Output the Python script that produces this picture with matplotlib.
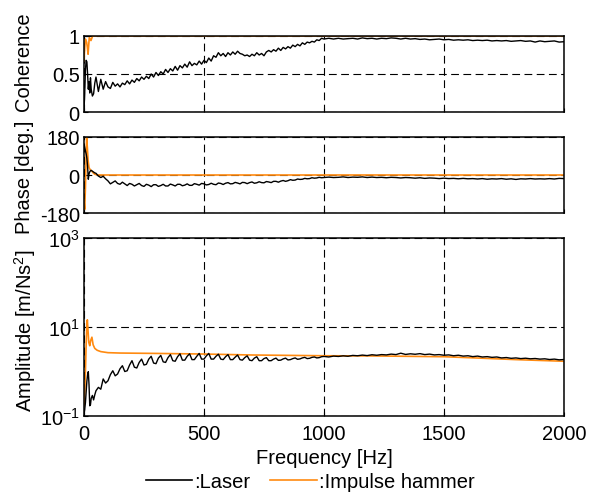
import numpy as np
import matplotlib
matplotlib.use("Agg")
import matplotlib.pyplot as plt
from matplotlib.lines import Line2D

plt.rcParams['font.family'] = ['Liberation Sans', 'DejaVu Sans']
plt.rcParams['mathtext.fontset'] = 'custom'
plt.rcParams['mathtext.rm'] = 'Liberation Sans'
plt.rcParams['mathtext.it'] = 'Liberation Sans:italic'
plt.rcParams['axes.unicode_minus'] = False
plt.rcParams['font.size'] = 14.5

# frequency bins: fine at the start, 10 Hz up to 1 kHz, 20 Hz above
freq = ([0, 3, 6, 9, 12, 15, 18, 21, 24, 27, 30, 35, 40, 45]
        + list(range(50, 1001, 10)) + list(range(1020, 2001, 20)))

# laser (black)
coh_laser = [0.02, 0.25, 0.55, 0.68, 0.66, 0.50, 0.30, 0.40, 0.25, 0.45, 0.30, 0.21, 0.24, 0.38,
             0.46, 0.27, 0.43, 0.30, 0.40, 0.33, 0.31, 0.39, 0.34, 0.37,
             0.33, 0.38, 0.36, 0.41, 0.37, 0.42, 0.39, 0.44, 0.41, 0.46,
             0.43, 0.47, 0.44, 0.50, 0.46, 0.52, 0.48, 0.53, 0.50, 0.56,
             0.52, 0.57, 0.54, 0.60, 0.55, 0.61, 0.58, 0.63, 0.59, 0.66,
             0.61, 0.64, 0.62, 0.67, 0.63, 0.68, 0.65, 0.71, 0.67, 0.74,
             0.72, 0.78, 0.74, 0.77, 0.73, 0.78, 0.75, 0.79, 0.76, 0.80,
             0.77, 0.76, 0.74, 0.75, 0.73, 0.76, 0.74, 0.78, 0.75, 0.77,
             0.74, 0.79, 0.81, 0.79, 0.82, 0.80, 0.84, 0.81, 0.85, 0.83,
             0.86, 0.84, 0.88, 0.86, 0.89, 0.87, 0.91, 0.89, 0.92, 0.91,
             0.93, 0.92, 0.95, 0.94, 0.97, 0.96,
             0.97, 0.96, 0.97, 0.96, 0.965, 0.97, 0.96, 0.975, 0.965, 0.97,
             0.96, 0.97, 0.965, 0.975, 0.97, 0.96, 0.97, 0.96, 0.965, 0.955,
             0.96, 0.95, 0.955, 0.96, 0.95, 0.955, 0.945, 0.95, 0.945, 0.95,
             0.94, 0.945, 0.94, 0.945, 0.935, 0.94, 0.935, 0.94, 0.93, 0.935,
             0.94, 0.93, 0.935, 0.92, 0.935, 0.925, 0.93, 0.935, 0.92, 0.925]

phase_laser = [147, 130, 115, 100, 80, 40, -20, 5, 15, 20, 22, 18, 14, 10,
               8, -5, -12, -6, -18, -28, -42, -35, -28, -40,
               -44, -34, -42, -50, -40, -44, -52, -46, -40, -50,
               -54, -44, -48, -55, -46, -46, -54, -50, -44, -52,
               -52, -43, -47, -52, -44, -44, -51, -48, -42, -49,
               -49, -41, -44, -48, -40, -42, -47, -45, -39, -44,
               -46, -38, -40, -45, -39, -36, -42, -41, -35, -38,
               -42, -35, -36, -41, -36, -33, -39, -37, -32, -36,
               -37, -31, -33, -36, -30, -30, -34, -29, -26, -30,
               -27, -22, -25, -24, -19, -21, -20, -16, -18, -17,
               -13, -15, -14, -11, -13, -12,
               -10, -12, -11, -9, -12, -10, -11, -9, -12, -10,
               -12, -11, -13, -11, -12, -14, -12, -13, -15, -13,
               -16, -14, -15, -17, -15, -17, -16, -18, -16, -18,
               -17, -19, -17, -20, -18, -19, -17, -20, -18, -21,
               -18, -19, -17, -19, -18, -19, -17, -19, -16, -17]

amp_laser = [0.11, 0.14, 0.20, 0.35, 0.60, 0.85, 0.99, 0.50, 0.17, 0.18, 0.25, 0.29, 0.23, 0.30,
             0.37, 0.44, 0.40, 0.68, 0.55, 0.62, 0.85, 1.04, 0.80, 0.88,
             1.15, 1.35, 1.00, 1.04, 1.40, 1.75, 1.25, 1.20, 1.60, 1.90,
             1.40, 1.45, 1.90, 2.20, 1.55, 1.50, 2.00, 2.30, 1.65, 1.60,
             2.05, 2.40, 1.75, 1.70, 2.15, 2.50, 1.80, 1.80, 2.20, 2.50,
             1.85, 1.85, 2.20, 2.55, 1.90, 1.90, 2.25, 2.55, 1.90, 1.90,
             2.20, 2.45, 1.90, 1.85, 2.15, 2.40, 1.85, 1.85, 2.10, 2.35,
             1.85, 1.80, 2.05, 2.25, 1.80, 1.75, 2.00, 2.15, 1.75, 1.75,
             1.95, 2.05, 1.75, 1.75, 1.90, 2.00, 1.78, 1.80, 1.92, 2.00,
             1.82, 1.85, 1.95, 2.02, 1.88, 1.92, 2.02, 2.08, 1.95, 1.98,
             2.08, 2.12, 2.02, 2.05, 2.15, 2.18,
             2.12, 2.22, 2.18, 2.25, 2.20, 2.30, 2.26, 2.34, 2.28, 2.38,
             2.32, 2.40, 2.36, 2.46, 2.40, 2.58, 2.42, 2.50, 2.44, 2.52,
             2.40, 2.46, 2.36, 2.40, 2.32, 2.36, 2.26, 2.32, 2.22, 2.26,
             2.16, 2.22, 2.12, 2.16, 2.08, 2.12, 2.02, 2.06, 1.98, 2.02,
             1.95, 1.99, 1.93, 1.96, 1.90, 1.93, 1.86, 1.90, 1.83, 1.86]

# impulse hammer (orange)
coh_hammer_f = [0, 3, 6, 9, 11, 14, 17, 22, 29, 36, 2000]
coh_hammer = [0.67, 0.85, 0.96, 0.93, 0.92, 0.85, 0.76, 0.98, 0.94, 1.0, 1.0]

phase_hammer_f = [0, 3, 6, 9, 11, 14, 17, 21, 26, 32, 40, 46, 60, 2000]
phase_hammer = [-120, -163, -60, 90, 178, 130, 70, 35, 25, 19, 8, 3, 0, 0]

amp_hammer_f = [0, 3, 6, 9, 12, 14, 17, 20, 24, 28, 33, 38, 45, 55, 70, 100,
                150, 300, 500, 700, 1000, 1200, 1500, 1650, 1800, 2000]
amp_hammer = [0.17, 0.3, 1.0, 4.0, 11, 14.5, 8, 4.5, 3.8, 5.0, 5.9, 4.0, 3.3, 3.0, 2.8, 2.65,
              2.6, 2.55, 2.47, 2.35, 2.26, 2.24, 2.15, 2.0, 1.85, 1.7]

c_laser = 'black'
c_hammer = '#FF8A10'
grid_style = dict(color='black', linewidth=0.8, linestyle=(0, (7, 4)))

fig = plt.figure(figsize=(5.94, 5.02), dpi=100)
ax1 = fig.add_axes([0.1414, 0.7749, 0.808, 0.1514])
ax2 = fig.add_axes([0.1414, 0.5737, 0.808, 0.1514], sharex=ax1)
ax3 = fig.add_axes([0.1414, 0.1693, 0.808, 0.3546], sharex=ax1)

ax1.plot(coh_hammer_f, coh_hammer, color=c_hammer, lw=1.2)
ax1.plot(freq, coh_laser, color=c_laser, lw=1.0)
ax1.set_ylim(0, 1)
ax1.set_yticks([0, 0.5, 1])
ax1.set_yticklabels(['0', '0.5', '1'])

ax2.plot(phase_hammer_f, phase_hammer, color=c_hammer, lw=1.2)
ax2.plot(freq, phase_laser, color=c_laser, lw=1.0)
ax2.set_ylim(-180, 180)
ax2.set_yticks([-180, 0, 180])

ax3.plot(amp_hammer_f, amp_hammer, color=c_hammer, lw=1.2)
ax3.plot(freq, amp_laser, color=c_laser, lw=1.0)
ax3.set_yscale('log')
ax3.set_ylim(1e-1, 1e3)
ax3.set_yticks([1e-1, 1e1, 1e3])
ax3.minorticks_off()
ax3.set_xlabel('Frequency [Hz]', labelpad=3)

ax1.set_xlim(0, 2000)
ax1.set_xticks([0, 500, 1000, 1500, 2000])
for ax in (ax1, ax2):
    ax.tick_params(labelbottom=False)

for ax in (ax1, ax2, ax3):
    ax.grid(True, **grid_style)
    ax.tick_params(direction='in', length=3, width=0.8, pad=3, labelsize=14.5)
    for s in ax.spines.values():
        s.set_linewidth(1.1)
ax3.tick_params(axis='x', pad=6)

fig.text(24 / 594, 1 - 62 / 502, 'Coherence', rotation=90, ha='center', va='center')
fig.text(24 / 594, 1 - 177 / 502, 'Phase [deg.]', rotation=90, ha='center', va='center')
fig.text(25 / 594, 1 - 331 / 502, 'Amplitude [m/Ns$^2$]', rotation=90, ha='center', va='center')

handles = [Line2D([], [], color=c_laser, lw=1.2), Line2D([], [], color=c_hammer, lw=1.2)]
fig.legend(handles, [':Laser', ':Impulse hammer'], loc='center', ncol=2,
           bbox_to_anchor=(310 / 594, 1 - 483 / 502), frameon=False,
           handlelength=2.3, handletextpad=0.1, columnspacing=1.0, fontsize=14.5)

fig.savefig('out.png', dpi=100)
